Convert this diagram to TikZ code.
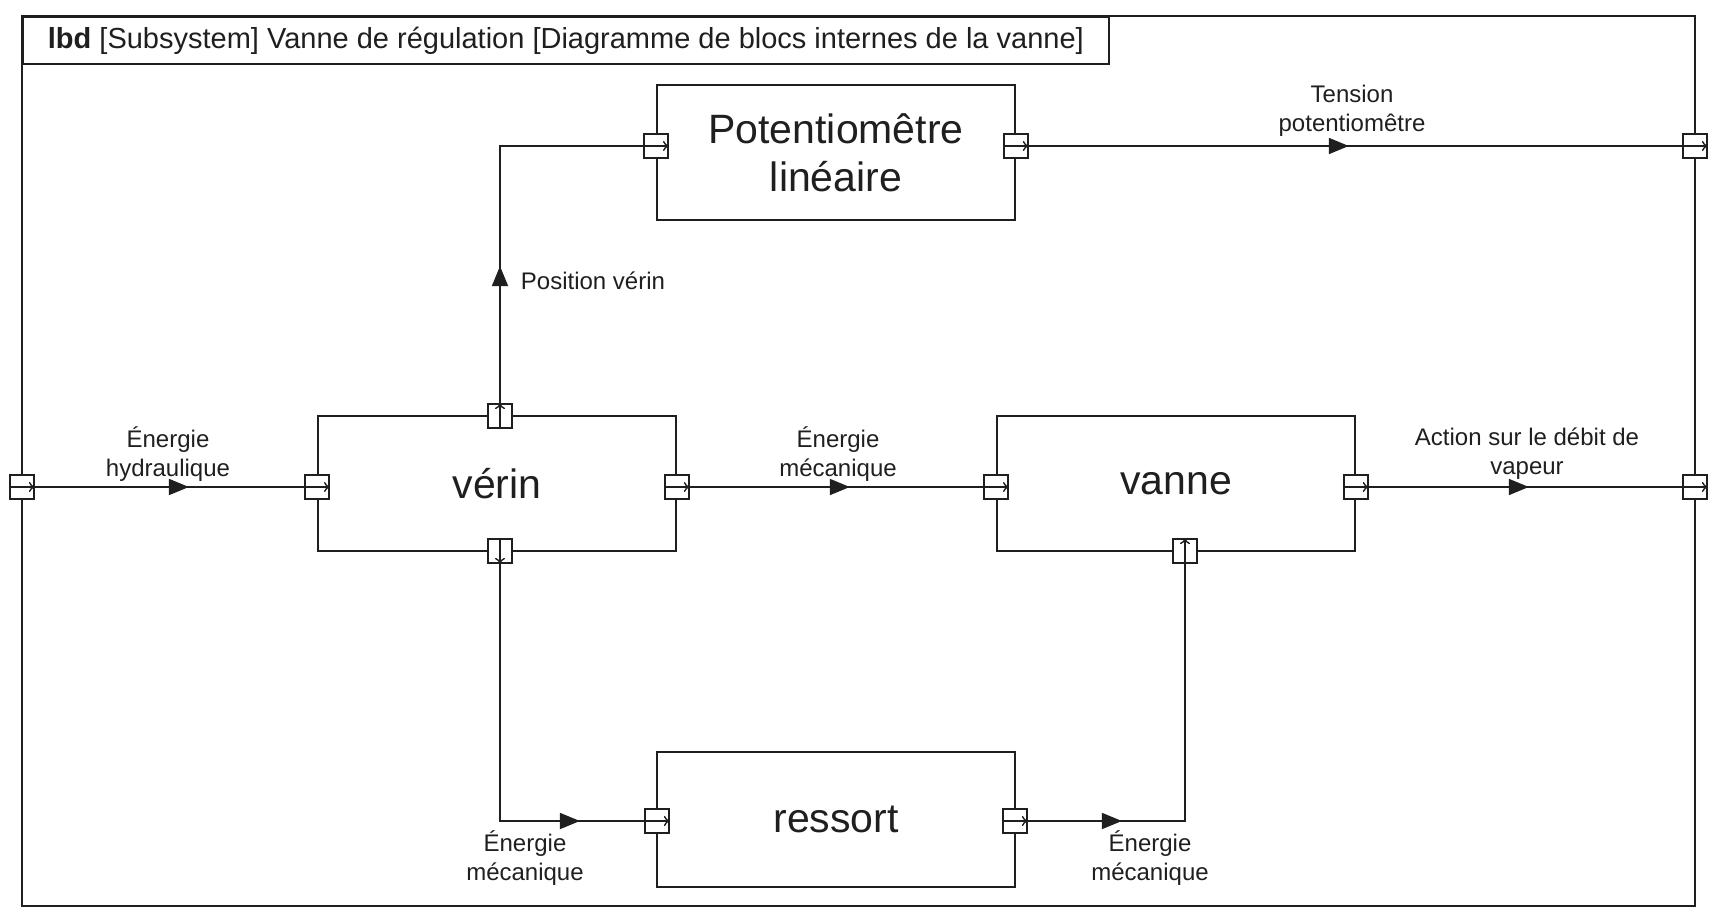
\documentclass[tikz,border=0pt]{standalone}
\usepackage{fontspec}
\setmainfont{Liberation Sans}
\usetikzlibrary{arrows.meta,decorations.markings}
\tikzset{
  block/.style    = {shape=rectangle, draw, align=center,
                     minimum width=358pt, minimum height=135pt,
                     font=\fontsize{41}{48}\selectfont},
  port/.style     = {shape=rectangle, draw, fill=white,
                     minimum size=24pt, inner sep=0pt},
  portdir/.style  = {line width=1.4pt, -{To[length=6pt,width=10pt]}},
  flow/.style     = {draw, postaction={decorate},
                     decoration={markings, mark=at position #1 with
                       {\arrow{Triangle[length=20pt,width=16pt]}}}},
  lbl/.style      = {align=center, inner sep=0pt,
                     font=\fontsize{24}{29}\selectfont},
  titlebox/.style = {draw, anchor=north west, inner xsep=25pt,
                     minimum height=47pt,
                     font=\fontsize{29}{35}\selectfont}
}
\begin{document}
\begin{tikzpicture}
  [
    x          = 1pt,
    y          = -1pt,
    line width = 1.8pt,
    color      = black!88
  ]
  \useasboundingbox (0,0) rectangle (1723,910);
  \draw (22,16) rectangle (1695,906);
  \node [titlebox] (title) at (22,16)
    {\textbf{lbd} [Subsystem] Vanne de régulation [Diagramme de blocs internes de la vanne]};

  % blocs
  \node [block] (pot)     at (836,152.5) {Potentiomêtre\\linéaire};
  \node [block] (verin)   at (497,483.5) {vérin};
  \node [block] (vanne)   at (1176,483.5) {vanne};
  \node [block] (ressort) at (836,819.5) {ressort};

  % ports
  \node [port] (pin)    at (22,487) {};
  \node [port] (pout1)  at (1695,146) {};
  \node [port] (pout2)  at (1695,487) {};
  \node [port] (potin)  at (pot.west |- pout1) {};
  \node [port] (potout) at (pot.east |- pout1) {};
  \node [port] (vin)    at (verin.west |- pin) {};
  \node [port] (vout)   at (verin.east |- pin) {};
  \node [port] (vtop)   at (500,416) {};
  \node [port] (vbot)   at (500,551) {};
  \node [port] (vain)   at (vanne.west |- pin) {};
  \node [port] (vaout)  at (vanne.east |- pin) {};
  \node [port] (vabot)  at (1185,551) {};
  \node [port] (rin)    at (657,821) {};
  \node [port] (rout)   at (1015,821) {};
  \foreach \p in {pin,pout1,pout2,potin,potout,vin,vout,vain,vaout,rin,rout}
    \draw [portdir] (\p.west) -- (\p.east);
  \draw [portdir] (vtop.south) -- (vtop.north);
  \draw [portdir] (vbot.north) -- (vbot.south);
  \draw [portdir] (vabot.south) -- (vabot.north);

  % flux
  \draw [flow=154pt] (pin.east) -- (vin.west);
  \draw [flow=160pt] (vout.east) -- (vain.west);
  \draw [flow=160pt] (vaout.east) -- (pout2.west);
  \draw [flow=320pt] (potout.east) -- (pout1.west);
  \draw [flow=137pt] (vtop.north) |- (potin.west);
  \draw [flow=337pt] (vbot.south) |- (rin.west);
  \draw [flow=94pt]  (rout.east) -| (vabot.south);

  \node [lbl] (lhyd)  at (168,454)  {Énergie\\hydraulique};
  \node [lbl] (lmec1) at (838,454)  {Énergie\\mécanique};
  \node [lbl] (lact)  at (1527,454) {Action sur le débit de\\vapeur};
  \node [lbl] (lten)  at (1352,111) {Tension\\potentiomêtre};
  \node [lbl, anchor=west] (lpos) at (520,281) {Position vérin};
  \node [lbl] (lmec2) at (525,858)  {Énergie\\mécanique};
  \node [lbl] (lmec3) at (1150,858) {Énergie\\mécanique};
\end{tikzpicture}
\end{document}
